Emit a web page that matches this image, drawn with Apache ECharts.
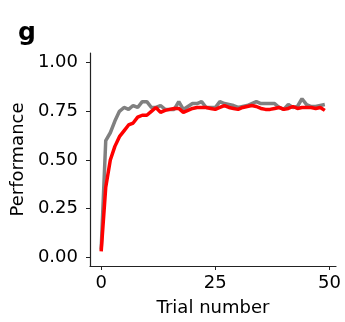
<!DOCTYPE html>
<html><head><meta charset="utf-8">
<script src="https://cdn.jsdelivr.net/npm/echarts@6/dist/echarts.min.js"></script>
<style>html,body{margin:0;padding:0;background:#fff}#c{width:345px;height:322px}</style>
</head><body><div id="c"></div>
<script>
const trials = Array.from({length: 50}, (_, i) => i);
const grayPerf = [0.04,0.60,0.64,0.70,0.75,0.77,0.76,0.78,0.77,0.80,
  0.80,0.77,0.77,0.78,0.76,0.76,0.76,0.80,0.76,0.775,
  0.79,0.79,0.80,0.77,0.77,0.77,0.80,0.79,0.785,0.78,
  0.77,0.775,0.78,0.79,0.80,0.79,0.79,0.79,0.79,0.77,
  0.76,0.785,0.77,0.775,0.815,0.785,0.775,0.775,0.78,0.785];
const redPerf = [0.03,0.36,0.50,0.57,0.62,0.65,0.68,0.69,0.72,0.73,
  0.73,0.75,0.77,0.745,0.755,0.76,0.765,0.765,0.745,0.755,
  0.765,0.77,0.77,0.77,0.765,0.76,0.77,0.78,0.77,0.765,
  0.76,0.77,0.775,0.78,0.775,0.765,0.76,0.76,0.765,0.77,
  0.76,0.765,0.775,0.765,0.77,0.77,0.77,0.765,0.77,0.755];
const xTicks = [0, 25, 50];
const yTicks = [0, 0.25, 0.5, 0.75, 1.0];

const font = 'DejaVu Sans';
const chart = echarts.init(document.getElementById('c'), null, {renderer: 'canvas'});
chart.setOption({
  animation: false,
  title: {text: 'g', left: 13, top: 16, textStyle: {fontFamily: font, fontSize: 25, fontWeight: 'bold', color: '#000'}},
  grid: {left: 90, top: 53, width: 246, height: 216, containLabel: false},
  xAxis: {
    type: 'value', min: -2.45, max: 51.45,
    name: 'Trial number', nameLocation: 'middle', nameGap: 33,
    nameTextStyle: {fontFamily: font, fontSize: 18, color: '#000'},
    axisLine: {show: true, onZero: false, lineStyle: {color: '#222', width: 1.2}},
    axisTick: {show: true, length: 4, customValues: xTicks, lineStyle: {color: '#222', width: 1}},
    axisLabel: {customValues: xTicks, fontFamily: font, fontSize: 18, color: '#000', margin: 8},
    splitLine: {show: false}
  },
  yAxis: {
    type: 'value', min: -0.045, max: 1.05,
    name: 'Performance', nameLocation: 'middle', nameGap: 55,
    nameTextStyle: {fontFamily: font, fontSize: 18, color: '#000'},
    axisLine: {show: true, onZero: false, lineStyle: {color: '#222', width: 1.2}},
    axisTick: {show: true, length: 4, customValues: yTicks, lineStyle: {color: '#222', width: 1}},
    axisLabel: {customValues: yTicks, fontFamily: font, fontSize: 18, color: '#000', margin: 12,
      formatter: v => v.toFixed(2)},
    splitLine: {show: false}
  },
  series: [
    {type: 'line', data: trials.map((t, i) => [t, grayPerf[i]]), showSymbol: false,
     lineStyle: {color: '#808080', width: 3.5}, z: 2},
    {type: 'line', data: trials.map((t, i) => [t, redPerf[i]]), showSymbol: false,
     lineStyle: {color: '#ff0000', width: 3.5}, z: 3}
  ]
});
</script></body></html>
